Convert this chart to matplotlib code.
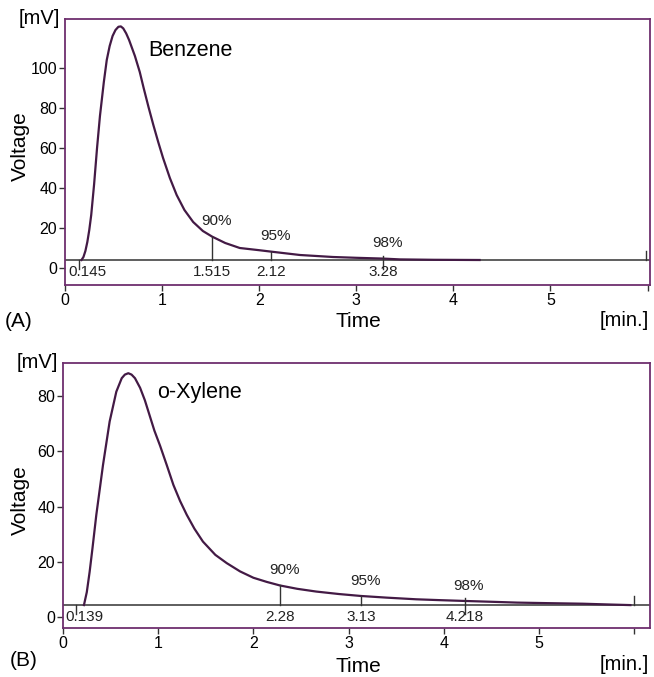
import matplotlib.pyplot as plt
import numpy as np

plt.rcParams['font.family'] = ['Liberation Sans', 'DejaVu Sans']

# benzene trace, time [min] / voltage [mV]
benzene_t = [0.17, 0.19, 0.21, 0.23, 0.25, 0.27, 0.30, 0.33, 0.36, 0.40, 0.43, 0.46,
             0.49, 0.52, 0.55, 0.575, 0.60, 0.63, 0.66, 0.69, 0.72, 0.77, 0.81, 0.86,
             0.91, 0.96, 1.01, 1.08, 1.15, 1.23, 1.32, 1.42, 1.515, 1.65, 1.80, 2.00,
             2.12, 2.42, 2.76, 3.00, 3.28, 3.45, 3.80, 4.27]
benzene_v = [4.0, 5.5, 8.5, 13.0, 19.0, 26.5, 42.0, 60.0, 76.0, 93.0, 104.0, 111.0,
             116.0, 119.0, 120.6, 120.8, 119.8, 117.3, 114.0, 110.0, 106.0, 98.0, 90.0, 80.5,
             71.5, 63.0, 55.0, 45.0, 36.5, 29.0, 23.0, 18.5, 15.7, 12.5, 10.0, 8.9,
             8.2, 6.5, 5.5, 5.1, 4.7, 4.3, 4.1, 4.0]
benzene_base = 4.0
benzene_marks = [0.145, 1.515, 2.12, 3.28]
benzene_pct = ['', '90%', '95%', '98%']
benzene_end = 5.98

# o-xylene trace
xylene_t = [0.22, 0.25, 0.28, 0.31, 0.35, 0.42, 0.49, 0.56, 0.617, 0.65, 0.686, 0.72,
            0.756, 0.81, 0.86, 0.91, 0.96, 1.02, 1.09, 1.16, 1.23, 1.30, 1.38, 1.47,
            1.60, 1.72, 1.86, 2.00, 2.14, 2.28, 2.46, 2.66, 2.90, 3.13, 3.40, 3.71,
            3.95, 4.218, 4.50, 4.77, 5.10, 5.46, 5.75, 5.96]
xylene_v = [4.3, 9.0, 16.4, 25.0, 37.0, 55.0, 70.8, 81.6, 86.5, 87.8, 88.3, 87.8,
            86.5, 83.0, 78.5, 73.0, 67.5, 62.0, 55.0, 47.8, 42.0, 37.0, 32.0, 27.3,
            22.5, 19.5, 16.5, 14.2, 12.7, 11.4, 10.2, 9.2, 8.3, 7.6, 7.0, 6.4,
            6.1, 5.8, 5.5, 5.2, 5.0, 4.8, 4.5, 4.3]
xylene_base = 4.3
xylene_marks = [0.139, 2.28, 3.13, 4.218]
xylene_pct = ['', '90%', '95%', '98%']
xylene_end = 6.0

FRAME = '#6e2f6e'
TRACE = '#431a45'
BASE = '#333333'


def draw_panel(ax, t, v, base, marks, pct, t_end, xmax, ylim, yticks, d):
    ax.plot([0, xmax], [base, base], color=BASE, lw=1.1, solid_capstyle='butt')
    ax.plot(t, v, color=TRACE, lw=1.6, solid_joinstyle='round')

    # start tick (goes below baseline)
    ax.plot([marks[0], marks[0]], [base, base - 4.5 * d], color=BASE, lw=1.0)
    for m in marks[1:3]:
        ax.plot([m, m], [base, np.interp(m, t, v)], color=BASE, lw=1.0)
    m = marks[3]
    ax.plot([m, m], [base - 4.5 * d, np.interp(m, t, v) + 1.5 * d], color=BASE, lw=1.0)
    ax.plot([t_end, t_end], [base, base + 4.5 * d], color=BASE, lw=1.0)

    for m, p in zip(marks, pct):
        if p:
            ax.annotate(p, (m, np.interp(m, t, v)), xytext=(3, 6), textcoords='offset points',
                        ha='center', va='bottom', fontsize=11, color='#222222')
    for i, m in enumerate(marks):
        dx = 6 if i == 0 else 0
        ax.annotate('%g' % m, (m, base), xytext=(dx, -3.5), textcoords='offset points',
                    ha='center', va='top', fontsize=11, color='#222222')

    ax.set_xlim(0, xmax)
    ax.set_ylim(*ylim)
    ax.set_xticks(range(7))
    ax.set_xticklabels(['0', '1', '2', '3', '4', '5', ''])
    ax.set_yticks(yticks)
    ax.tick_params(direction='out', length=4, width=1.0, color='#333333',
                   labelsize=11.5, pad=1.5)
    for s in ax.spines.values():
        s.set_color(FRAME)
        s.set_linewidth(1.3)
    ax.text(-0.009, 1.0, '[mV]', transform=ax.transAxes, ha='right', va='center',
            fontsize=14.5)


fig = plt.figure(figsize=(6.54, 6.77), dpi=100)
W, H = 654.0, 677.0

axA = fig.add_axes([65 / W, 1 - 285 / H, 585 / W, 266 / H])
draw_panel(axA, benzene_t, benzene_v, benzene_base, benzene_marks, benzene_pct,
           benzene_end, 6.025, (-8.5, 124.5), range(0, 101, 20), 1.0)
fig.text(148 / W, 1 - 56 / H, 'Benzene', fontsize=15.5, va='baseline')
fig.text(20 / W, 1 - 146 / H, 'Voltage', rotation=90, ha='center', va='center', fontsize=15)
fig.text(358 / W, 1 - 321 / H, 'Time', ha='center', va='center', fontsize=15)
fig.text(649 / W, 1 - 320 / H, '[min.]', ha='right', va='center', fontsize=14.5)
fig.text(5 / W, 1 - 321 / H, '(A)', ha='left', va='center', fontsize=15)

axB = fig.add_axes([63 / W, 1 - 628 / H, 587 / W, 265 / H])
draw_panel(axB, xylene_t, xylene_v, xylene_base, xylene_marks, xylene_pct,
           xylene_end, 6.166, (-4.0, 92.0), range(0, 81, 20), 0.72)
fig.text(157 / W, 1 - 398 / H, 'o-Xylene', fontsize=15.5, va='baseline')
fig.text(20 / W, 1 - 500 / H, 'Voltage', rotation=90, ha='center', va='center', fontsize=15)
fig.text(358 / W, 1 - 667 / H, 'Time', ha='center', va='center', fontsize=15)
fig.text(649 / W, 1 - 665 / H, '[min.]', ha='right', va='center', fontsize=14.5)
fig.text(10 / W, 1 - 661 / H, '(B)', ha='left', va='center', fontsize=15)

fig.savefig('out.png', dpi=100)
